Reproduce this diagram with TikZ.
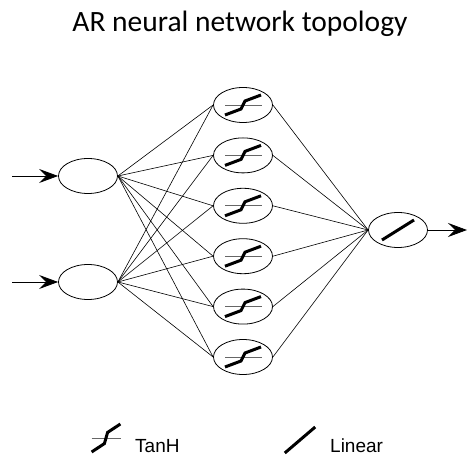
\documentclass[tikz,border=0pt]{standalone}
\usepackage{fontspec}
\usetikzlibrary{positioning,arrows.meta,shapes.geometric}
\newfontfamily\titlefont{Carlito}
\newfontfamily\legendfont{Liberation Sans}
\tikzset{
  neuron/.style={draw=black, ellipse, line width=0.8pt, minimum width=59pt, minimum height=35pt, inner sep=0pt},
  wire/.style={draw=black, line width=0.6pt},
  feed/.style={-{Stealth[length=19pt,width=14pt,inset=7pt]}, draw=black, line width=0.8pt},
  lbl/.style={font=\legendfont\fontsize{19}{22}\selectfont, anchor=base west, inner sep=0pt},
  tanhicon/.pic={
    \draw[gray!80!black, line width=0.7pt] (-18,0) -- (19,0);
    \draw[line width=3pt] (-18,-10) -- (-2,-4) -- (2,4) -- (18,10);
  },
  linicon/.pic={
    \draw[line width=3pt] (-16,-10) -- (16,10);
  }
}
\begin{document}
\begin{tikzpicture}[x=1pt,y=1pt]
  \useasboundingbox (0,0) rectangle (468,457);
  \node[font=\titlefont\fontsize{29.5}{34}\selectfont, anchor=base] (title) at (240,425) {AR neural network topology};

  % input layer
  \node[neuron] (in1) at (88,281) {};
  \node[neuron] (in2) at (88,175) {};
  \coordinate (src1) at (12,281);
  \coordinate (src2) at (12,175);
  \draw[feed] (src1) -- (in1);
  \draw[feed] (src2) -- (in2);

  % output layer
  \node[neuron] (out) at (398,227) {};
  \pic at (out.center) {linicon};
  \coordinate (sink) at (467,227);
  \draw[feed] (out) -- (sink);

  % hidden layer
  \foreach \i in {1,...,6} {
    \node[neuron] (h\i) at (243,{352-50.4*(\i-1)}) {};
    \pic at (h\i.center) {tanhicon};
    \draw[wire] (in1.east) -- (h\i.west);
    \draw[wire] (in2.east) -- (h\i.west);
    \draw[wire] (h\i.east) -- (out.west);
  }

  % legend
  \pic[xscale=0.8, yscale=1.4] at (106,19) {tanhicon};
  \node[lbl] (ltanh) at (135,4) {TanH};
  \pic[xscale=0.95, yscale=1.3] at (300,17) {linicon};
  \node[lbl] (llin) at (330,4) {Linear};
\end{tikzpicture}
\end{document}
